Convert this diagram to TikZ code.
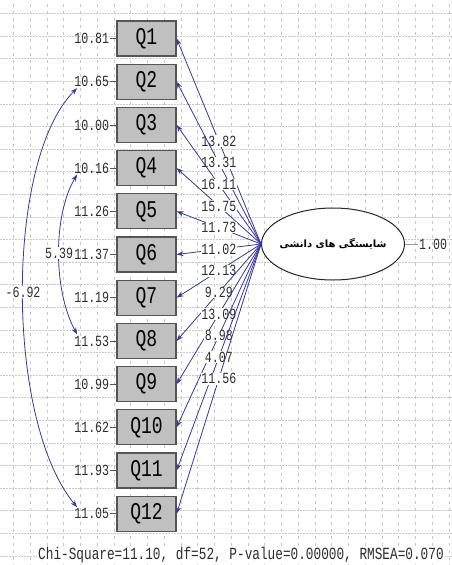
\documentclass[tikz,border=0pt]{standalone}
\usepackage{fontspec}
\usepackage{tikz}
\usetikzlibrary{arrows.meta,positioning,shapes.geometric}
\newfontfamily\lisfont[FakeStretch=0.75]{Liberation Mono}
\newfontfamily\arabicfont[Script=Arabic]{DejaVu Sans}
\TeXXeTstate=1
\definecolor{cajagris}{RGB}{192,192,192}
\definecolor{bordegris}{RGB}{85,85,85}
\definecolor{rutaazul}{RGB}{55,55,165}
\definecolor{textogris}{RGB}{45,45,45}
\definecolor{rejilla}{RGB}{200,200,200}
\tikzset{
  indicador/.style={
    draw=bordegris,
    line width=1.2pt,
    fill=cajagris,
    minimum width=59pt,
    minimum height=35pt,
    inner sep=0pt,
    font=\lisfont\fontsize{24}{26}\selectfont
  },
  latente/.style={
    ellipse,
    draw=black!85,
    line width=1pt,
    fill=white,
    minimum width=143pt,
    minimum height=72pt,
    inner sep=0pt
  },
  latnombre/.style={
    inner sep=0pt,
    font=\arabicfont\bfseries\fontsize{10}{13}\selectfont
  },
  varerr/.style={
    inner sep=1pt,
    text=textogris,
    font=\lisfont\fontsize{15.5}{16}\selectfont
  },
  carga/.style={
    fill=white,
    inner sep=0.5pt,
    text=textogris,
    font=\lisfont\fontsize{15.5}{16}\selectfont
  },
  arrow/.style={
    -{Stealth[length=7pt,width=5pt]},
    line width=0.8pt,
    rutaazul
  },
  covar/.style={
    {Stealth[length=7pt,width=5pt]}-{Stealth[length=7pt,width=5pt]},
    line width=0.8pt,
    rutaazul
  },
  marca/.style={
    line width=0.8pt,
    bordegris
  }
}

\begin{document}
\begin{tikzpicture}[x=1pt,y=-1pt,node distance=7pt]
\useasboundingbox (0,0) rectangle (452,565);
% rejilla de fondo
\foreach \gy in {0,...,24}
  \draw[rejilla, line width=0.6pt, dash pattern=on 1.5pt off 1.5pt] (0,13.5+22.6*\gy) -- (452,13.5+22.6*\gy);
\foreach \gx in {0,...,26}
  \draw[rejilla, line width=0.6pt, dash pattern=on 3pt off 4pt] (13.5+16.75*\gx,4) -- (13.5+16.75*\gx,565);

% indicadores
\node[indicador] (q1) at (146.5,38.5) {Q1};
\node[indicador, below=of q1] (q2) {Q2};
\node[indicador, below=of q2] (q3) {Q3};
\node[indicador, below=of q3] (q4) {Q4};
\node[indicador, below=of q4] (q5) {Q5};
\node[indicador, below=of q5] (q6) {Q6};
\node[indicador, below=of q6] (q7) {Q7};
\node[indicador, below=of q7] (q8) {Q8};
\node[indicador, below=of q8] (q9) {Q9};
\node[indicador, below=of q9] (q10) {Q10};
\node[indicador, below=of q10] (q11) {Q11};
\node[indicador, below=of q11] (q12) {Q12};

% varianzas de error
\node[varerr, left=6pt of q1] (e1) {10.81};
\node[varerr, left=6pt of q2] (e2) {10.65};
\node[varerr, left=6pt of q3] (e3) {10.00};
\node[varerr, left=6pt of q4] (e4) {10.16};
\node[varerr, left=6pt of q5] (e5) {11.26};
\node[varerr, left=6pt of q6] (e6) {11.37};
\node[varerr, left=6pt of q7] (e7) {11.19};
\node[varerr, left=6pt of q8] (e8) {11.53};
\node[varerr, left=6pt of q9] (e9) {10.99};
\node[varerr, left=6pt of q10] (e10) {11.62};
\node[varerr, left=6pt of q11] (e11) {11.93};
\node[varerr, left=6pt of q12] (e12) {11.05};
\draw[marca] (e1) -- (q1);
\draw[marca] (e2) -- (q2);
\draw[marca] (e3) -- (q3);
\draw[marca] (e4) -- (q4);
\draw[marca] (e5) -- (q5);
\draw[marca] (e6) -- (q6);
\draw[marca] (e7) -- (q7);
\draw[marca] (e8) -- (q8);
\draw[marca] (e9) -- (q9);
\draw[marca] (e10) -- (q10);
\draw[marca] (e11) -- (q11);
\draw[marca] (e12) -- (q12);

% variable latente
\node[latente] (lat) at (333,244) {};
\node[latnombre] (latnom) at (lat) {\beginR شایستگی های دانشی\endR};
\node[varerr, right=13pt of lat] (v1) {1.00};
\draw[marca, black!40] (lat) -- (v1);

% cargas
\draw[arrow] (lat.west) -- node[carga] (l1) {13.82} (q1.east);
\draw[arrow] (lat.west) -- node[carga] (l2) {13.31} (q2.east);
\draw[arrow] (lat.west) -- node[carga] (l3) {16.11} (q3.east);
\draw[arrow] (lat.west) -- node[carga] (l4) {15.75} (q4.east);
\draw[arrow] (lat.west) -- node[carga] (l5) {11.73} (q5.east);
\draw[arrow] (lat.west) -- node[carga] (l6) {11.02} (q6.east);
\draw[arrow] (lat.west) -- node[carga] (l7) {12.13} (q7.east);
\draw[arrow] (lat.west) -- node[carga] (l8) {9.29} (q8.east);
\draw[arrow] (lat.west) -- node[carga] (l9) {13.09} (q9.east);
\draw[arrow] (lat.west) -- node[carga] (l10) {8.98} (q10.east);
\draw[arrow] (lat.west) -- node[carga] (l11) {4.07} (q11.east);
\draw[arrow] (lat.west) -- node[carga] (l12) {11.56} (q12.east);

% covarianzas
\draw[covar] ([xshift=4pt]e2.south west) .. controls (5,160) and (5,420) .. node[carga] (c1) {-6.92} ([xshift=4pt]e12.north west);
\draw[covar] ([xshift=4pt]e4.south west) .. controls (53,215) and (53,290) .. node[carga] (c2) {5.39} ([xshift=4pt]e8.north west);

% ajuste
\node[varerr, fill=white, font=\lisfont\fontsize{17}{18}\selectfont] (ajuste) at (241,555) {Chi-Square=11.10, df=52, P-value=0.00000, RMSEA=0.070};
\end{tikzpicture}
\end{document}
